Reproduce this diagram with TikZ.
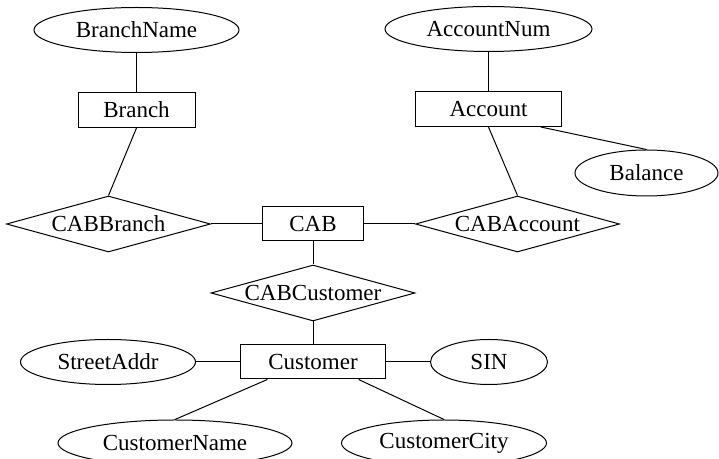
\documentclass[tikz,border=0pt]{standalone}
\usepackage{fontspec}
\setmainfont{Liberation Serif}
\usetikzlibrary{positioning,shapes.geometric}

\begin{document}
\begin{tikzpicture}[line width=0.5pt, font=\fontsize{11.5}{13}\selectfont]
        \tikzset{entity/.style= {draw, rectangle, align=center, inner sep=0pt, minimum height=17.5pt},
        attrib/.style={draw, ellipse, inner sep=1pt, minimum height=22.5pt},
        relation/.style={ % requires library shapes.geometric
        draw,
        diamond,
        aspect=3.6,
        inner sep=0pt,
        minimum width=102pt,
        minimum height=28pt
    },
        }
        \useasboundingbox (0,0) rectangle (359.5pt,-229.5pt);
        \node [entity, minimum width=50.5pt, minimum height=17pt] at (156.5pt,-112pt) (cab) {CAB};
        \node [relation, left =25.5pt of cab] (cabbranch) {CABBranch};
        \node [relation, right =25.5pt of cab] (cabaccount) {CABAccount};
        \node [relation, below =11.5pt of cab] (cabcustomer) {CABCustomer};
        \node [entity, minimum width=72.5pt, minimum height=17pt, below =11.5pt of cabcustomer] (customer) {Customer};
        \node [entity, minimum width=58.5pt, above =33.75pt of cabbranch, xshift=14pt] (branch) {Branch};
        \node [attrib, minimum width=102.5pt, above =19.5pt of branch] (branchname) {BranchName};
        \node [entity, minimum width=73pt, above =34.25pt of cabaccount, xshift=-14.5pt] (account) {Account};
        \node [attrib, minimum width=103.5pt, above =19.5pt of account] (accountnum) {AccountNum};
        \node [attrib, minimum width=71.5pt, minimum height=23pt, below =11.25pt of account, xshift=79pt] (balance) {Balance};
        \node [attrib, minimum width=87.5pt, left =22pt of customer] (streetaddr) {StreetAddr};
        \node [attrib, minimum width=58.5pt, right =22pt of customer] (sin) {SIN};
        \node [attrib, minimum width=117pt, minimum height=23pt, below =20pt of customer, xshift=-69pt] (customername) {CustomerName};
        \node [attrib, minimum width=102.5pt, minimum height=23pt, below =20pt of customer, xshift=65.5pt] (customercity) {CustomerCity};

%% paths
        \path[draw,-] (branchname) edge (branch)
                    (branch.south) edge (cabbranch.north)
                    (cabbranch) edge (cab)
                    (cab) edge (cabaccount)
                    (accountnum) edge (account)
                    (account.south) edge (cabaccount.north)
                    (account.-19) edge (balance.north)
                    (cab) edge (cabcustomer)
                    (cabcustomer) edge (customer)
                    (streetaddr) edge (customer)
                    (customer) edge (sin)
                    (customer.-159) edge (customername.north)
                    (customer.-21) edge (customercity.north)
                    ;
    \end{tikzpicture}
\end{document}
